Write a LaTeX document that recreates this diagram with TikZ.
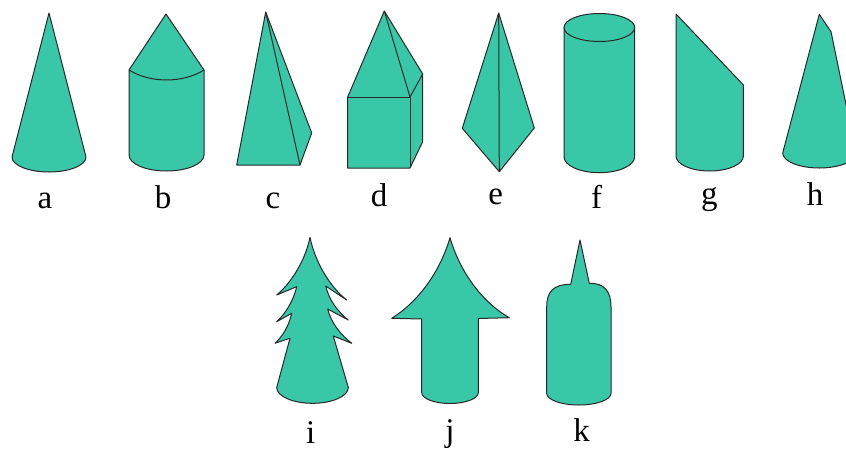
\documentclass[tikz,border=0pt]{standalone}
\usepackage{fontspec}
\setmainfont{Liberation Serif}
\definecolor{solid}{RGB}{56,200,168}
\definecolor{edge}{RGB}{40,40,40}
\begin{document}
\begin{tikzpicture}[x=1pt,y=-1pt,
  body/.style={fill=solid,draw=edge,line width=1pt,line join=round},
  crease/.style={draw=edge,line width=1pt},
  lbl/.style={anchor=base,inner sep=0pt,font=\fontsize{33}{36}\selectfont}]
\path[use as bounding box] (0,0) rectangle (846,450);
\begin{scope}
\clip (0,0) rectangle (846,450);

% a: cone
\path[body] (49,13) -- (12,157)
  arc[start angle=180,end angle=360,x radius=37pt,y radius=15pt] -- cycle;

% b: cylinder with a cone on top
\path[body] (166,14) -- (129,70) -- (129,155)
  arc[start angle=180,end angle=360,x radius=37.5pt,y radius=16pt]
  -- (204,70) -- cycle;
\draw[crease] (129,70) .. controls (150,83.3) and (183,83.3) .. (204,70);

% c: triangular pyramid
\path[body] (265.7,12) -- (236.7,165) -- (300,165) -- (311.7,133) -- cycle;
\draw[crease] (265.7,12) -- (300,165);

% d: cuboid with a pyramid on top
\path[body] (384.3,11) -- (347.7,97) -- (347.7,168) -- (410,168)
  -- (422.7,141.7) -- (422.7,74) -- cycle;
\draw[crease] (347.7,97) -- (410,97) -- (410,168);
\draw[crease] (410,97) -- (422.7,74);
\draw[crease] (384.3,11) -- (410,97);

% e: double pyramid
\path[body] (498.7,13) -- (462.3,128.3) -- (499.3,171.7) -- (534.3,128) -- cycle;
\draw[crease] (498.7,13) -- (499.3,171.7);

% f: cylinder
\path[body] (564,27.5) -- (564,156.7)
  arc[start angle=180,end angle=360,x radius=35.35pt,y radius=16pt]
  -- (634.7,27.5) -- cycle;
\path[body] (599.35,27.5) ellipse[x radius=35.35pt,y radius=14pt];

% g: cut cylinder
\path[body] (676,14) -- (676,156)
  arc[start angle=180,end angle=360,x radius=33.7pt,y radius=15pt]
  -- (743.4,85) -- cycle;

% h: blunt cone
\path[body] (819.3,14.3) -- (782.7,153)
  arc[start angle=180,end angle=360,x radius=36.65pt,y radius=15pt]
  -- (831,31.7) -- cycle;

% i: fir tree
\path[body] (310,237.3)
  .. controls (305,262) and (290,284) .. (276.7,295) -- (296.7,286.7)
  .. controls (293,302) and (285,314) .. (276.7,321.7) -- (291.7,313.3)
  .. controls (289,326) and (282,337) .. (275,343.3) -- (290,338.3)
  -- (276.7,387.5)
  arc[start angle=180,end angle=360,x radius=35.8pt,y radius=15.8pt]
  -- (333.3,336) -- (351.7,343.3)
  .. controls (341,335) and (331,323) .. (327.7,309) -- (348.3,320)
  .. controls (338,312) and (329,300) .. (325.7,286) -- (346.7,300)
  .. controls (330,287) and (315,262) .. (310,237.3) -- cycle;

% j: arrow
\path[body] (450,237.7)
  .. controls (440,272) and (418,302) .. (391.7,318.3) -- (421.7,319)
  -- (421.7,392.5)
  arc[start angle=180,end angle=360,x radius=28.3pt,y radius=11pt]
  -- (478.3,318.5) -- (509.3,317.7)
  .. controls (482,302) and (460,272) .. (450,237.7) -- cycle;

% k: rounded block with a spike
\path[body] (580,240) -- (589.3,283.3)
  .. controls (605,283) and (611,292) .. (611,307) -- (611,393.3)
  arc[start angle=0,end angle=-180,x radius=32.15pt,y radius=11.7pt]
  -- (546.7,307) .. controls (546.7,292) and (553,284.3) .. (570.7,284.3)
  -- cycle;
\end{scope}

% letters
\node[lbl] (la) at (45,208) {a};
\node[lbl] (lb) at (163,208) {b};
\node[lbl] (lc) at (273,208) {c};
\node[lbl] (ld) at (379,206.7) {d};
\node[lbl] (le) at (495.7,204) {e};
\node[lbl] (lf) at (596.7,208) {f};
\node[lbl] (lg) at (709.3,204) {g};
\node[lbl] (lh) at (815,205) {h};
\node[lbl] (li) at (310.7,443.3) {i};
\node[lbl] (lj) at (450,441.7) {j};
\node[lbl] (lk) at (581.7,441.7) {k};
\end{tikzpicture}
\end{document}
